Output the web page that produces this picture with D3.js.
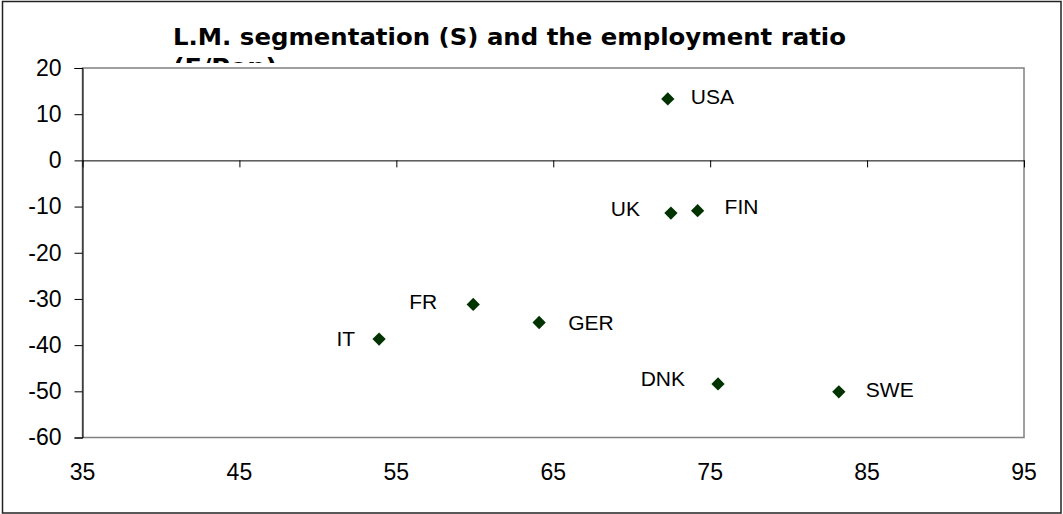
<!DOCTYPE html>
<html>
<head>
<meta charset="utf-8">
<script src="https://cdn.jsdelivr.net/npm/d3@7"></script>
<style>
  html, body { margin: 0; padding: 0; background: #fff; }
  svg { display: block; }
  .lbl { font-family: "Liberation Sans", Arial, sans-serif; font-size: 21px; fill: #000; }
  .tk { font-family: "Liberation Sans", Arial, sans-serif; font-size: 23px; fill: #000; }
</style>
</head>
<body>
<svg id="chart" width="1063" height="514"></svg>
<script>
// ---- data ----
const countries = ["USA", "UK", "FIN", "FR", "GER", "IT", "DNK", "SWE"];
const employmentRatio = [72.3, 72.5, 74.2, 59.9, 64.1, 53.9, 75.5, 83.2];
const segmentation = [13.3, -11.4, -10.9, -31.2, -35.1, -38.7, -48.4, -50.1];
const xTicks = [35, 45, 55, 65, 75, 85, 95];
const yTicks = [20, 10, 0, -10, -20, -30, -40, -50, -60];
const titleLines = ["L.M. segmentation (S) and the employment ratio", "(E/Pop)"];

// ---- layout ----
const W = 1063, H = 514;
const plot = { left: 82.5, right: 1024, top: 68, bottom: 437.5 };
const labelPlacement = {
  USA: [23, -2, "start"], UK: [-31, -5, "end"], FIN: [27, -4, "start"],
  FR: [-36, -3, "end"], GER: [29, 0, "start"], IT: [-24, -1, "end"],
  DNK: [-33, -5, "end"], SWE: [27, -2, "start"]
};

const svg = d3.select("#chart");

// outer chart border
svg.append("rect").attr("x", 2.5).attr("y", 1.5).attr("width", W - 4.5).attr("height", H - 2.5)
  .attr("fill", "#fff").attr("stroke", "#222").attr("stroke-width", 1.5);

// title
const title = svg.append("g");
titleLines.forEach((t, i) => {
  const tx = title.append("text")
    .attr("x", 173).attr("y", 45 + i * 30)
    .style("font-family", "'DejaVu Sans', Verdana, sans-serif")
    .style("font-weight", "bold").style("font-size", "23px")
    .attr("fill", "#000").text(t);
  if (i === 0) tx.attr("textLength", 673).attr("lengthAdjust", "spacingAndGlyphs");
  else tx.attr("textLength", 104).attr("lengthAdjust", "spacingAndGlyphs");
});

// plot area (white covers the second title line, as in the original)
svg.append("rect").attr("x", plot.left).attr("y", 63).attr("width", plot.right - plot.left)
  .attr("height", plot.bottom - 63).attr("fill", "#fff");
svg.append("rect").attr("x", plot.left).attr("y", plot.top).attr("width", plot.right - plot.left)
  .attr("height", plot.bottom - plot.top).attr("fill", "none").attr("stroke", "#808080").attr("stroke-width", 1.5);

const x = d3.scaleLinear().domain([35, 95]).range([plot.left, plot.right]);
const y = d3.scaleLinear().domain([-60, 20]).range([plot.bottom, plot.top]);

// y axis
const yAxis = svg.append("g").attr("transform", `translate(${plot.left},0)`)
  .call(d3.axisLeft(y).tickValues(yTicks).tickSize(8).tickPadding(13).tickFormat(d => String(d)));
yAxis.attr("font-family", null).attr("font-size", null);
yAxis.select(".domain").attr("stroke", "#000");
yAxis.selectAll(".tick line").attr("stroke", "#000");
yAxis.selectAll("text").attr("class", "tk").attr("fill", "#000").attr("x", -21);

// x axis line at y = 0 with ticks downward
const xAxis = svg.append("g").attr("transform", `translate(0,${y(0)})`)
  .call(d3.axisBottom(x).tickValues(xTicks).tickSize(7).tickSizeOuter(0).tickFormat(""));
xAxis.select(".domain").attr("stroke", "#000");
xAxis.selectAll(".tick line").attr("stroke", "#000");

// x tick labels at the bottom
svg.append("g").selectAll("text").data(xTicks).join("text")
  .attr("class", "tk")
  .attr("x", d => x(d)).attr("y", 479.5)
  .attr("text-anchor", "middle")
  .text(d => String(d));

// points
const pts = countries.map((c, i) => ({ c, xv: employmentRatio[i], yv: segmentation[i] }));
const diamond = d3.symbol().type(d3.symbolSquare).size(88);
svg.append("g").selectAll("path").data(pts).join("path")
  .attr("d", diamond)
  .attr("transform", d => `translate(${x(d.xv)},${y(d.yv)}) rotate(45)`)
  .attr("fill", "#003300");

// labels
svg.append("g").selectAll("text").data(pts).join("text")
  .attr("class", "lbl")
  .attr("x", d => x(d.xv) + labelPlacement[d.c][0])
  .attr("y", d => y(d.yv) + labelPlacement[d.c][1] + 7.5)
  .attr("text-anchor", d => labelPlacement[d.c][2])
  .text(d => d.c);
</script>
</body>
</html>
